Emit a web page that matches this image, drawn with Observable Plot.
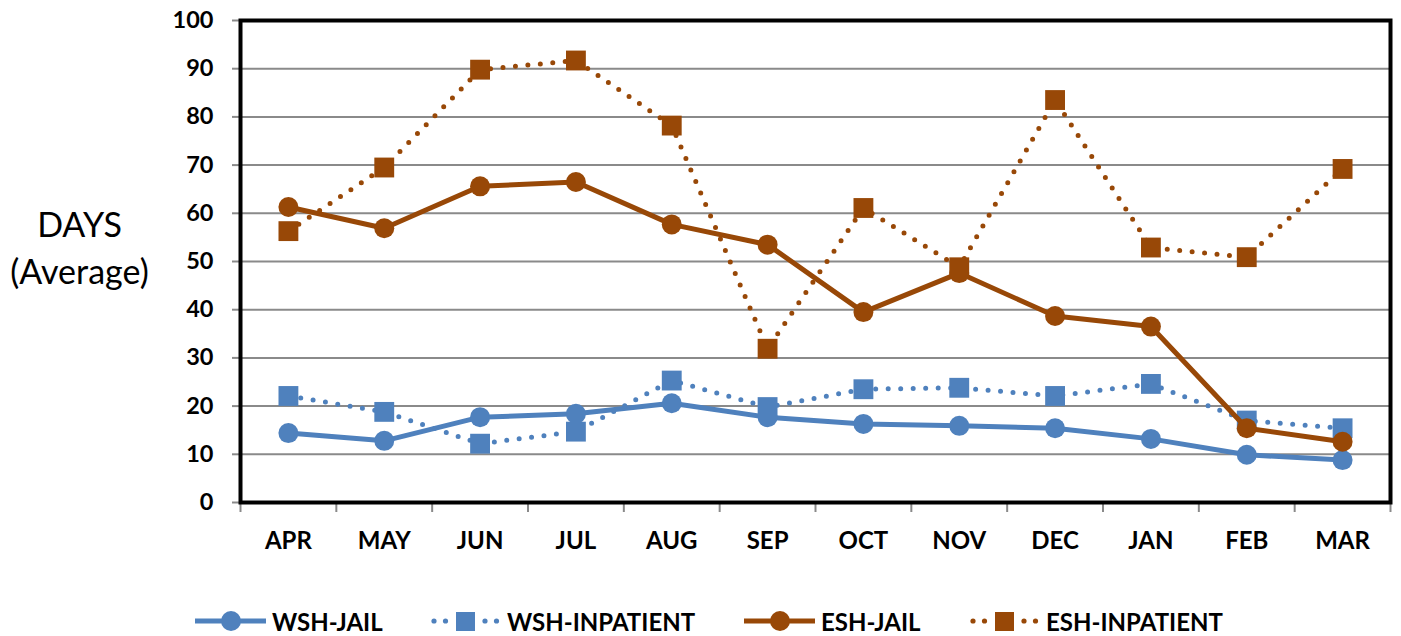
<!DOCTYPE html>
<html><head><meta charset="utf-8">
<script src="https://cdn.jsdelivr.net/npm/d3@7"></script>
<script src="https://cdn.jsdelivr.net/npm/@observablehq/plot@0.6"></script>
<style>
body{margin:0;background:#fff;font-family:Lato,sans-serif;}
#wrap{position:relative;width:1401px;height:636px;overflow:hidden;}
#legend{position:absolute;top:606px;left:0;width:1401px;height:30px;}
.item{position:absolute;top:0;height:30px;display:flex;align-items:center;font-weight:bold;font-size:24px;color:#000;}
.item svg{display:block;}
</style></head><body>
<div id="wrap"><div id="chart"></div><div id="legend"></div></div>
<script>
const months = ["APR","MAY","JUN","JUL","AUG","SEP","OCT","NOV","DEC","JAN","FEB","MAR"];
const yTicks = [0,10,20,30,40,50,60,70,80,90,100];
const gridValues = [10,20,30,40,50,60,70,80,90];
const wshJail = [14.4,12.8,17.7,18.4,20.6,17.7,16.3,15.9,15.4,13.2,9.9,8.8];
const wshInpatient = [22.1,18.8,12.2,14.7,25.3,19.8,23.5,23.8,22.1,24.6,17.0,15.4];
const eshJail = [61.3,56.9,65.6,66.5,57.7,53.5,39.5,47.6,38.7,36.5,15.4,12.6];
const eshInpatient = [56.3,69.5,89.8,91.7,78.2,31.9,61.1,48.8,83.5,52.9,50.9,69.2];
const seriesNames = ["WSH-JAIL","WSH-INPATIENT","ESH-JAIL","ESH-INPATIENT"];
const seriesColors = ["#4F81BD","#4F81BD","#984807","#984807"];
const seriesDotted = [false,true,false,true];
const seriesValues = [wshJail, wshInpatient, eshJail, eshInpatient];

const boundaries = months.map((_, i) => i - 0.5).concat([months.length - 0.5]);
const monthIdx = months.map((_, i) => i);

const seriesMarks = seriesNames.flatMap((name, k) => {
  const rows = seriesValues[k].map((v, i) => ({i, value: v}));
  const c = seriesColors[k];
  const dotted = seriesDotted[k];
  return [
    Plot.line(rows, {x: "i", y: "value", stroke: c, strokeWidth: 5,
      strokeDasharray: dotted ? "0,12.5" : null, strokeLinecap: "round", strokeLinejoin: "round"}),
    Plot.dot(rows, {x: "i", y: "value", fill: c, stroke: "none",
      symbol: dotted ? "square" : "circle", r: dotted ? 11.2 : 10})
  ];
});

const chart = Plot.plot({
  width: 1401, height: 600,
  marginLeft: 240, marginRight: 11, marginTop: 20, marginBottom: 98,
  style: {fontFamily: "Lato, sans-serif", fontSize: "23.5px", fontWeight: "bold", color: "#000", background: "#fff"},
  x: {type: "linear", domain: [-0.5, months.length - 0.5], axis: null, label: null},
  y: {domain: [0, 100], axis: null, label: null},
  marks: [
    Plot.ruleY(gridValues, {stroke: "#8a8a8a", strokeWidth: 2}),
    Plot.axisY({ticks: yTicks, tickSize: 8, tickPadding: 19, stroke: "#8a8a8a", strokeWidth: 2, tickFormat: d => d, label: null, fill: "#000"}),
    Plot.axisX({ticks: boundaries, tickSize: 10, stroke: "#8a8a8a", strokeWidth: 2, tickFormat: () => "", label: null}),
    Plot.axisX({ticks: monthIdx, tickSize: 0, tickPadding: 29, tickFormat: i => months[i], label: null, fill: "#000", fontSize: 24}),
    Plot.text(["DAYS\n(Average)"], {text: d => d, frameAnchor: "left", dx: -161, dy: -16, fontSize: 34, fontWeight: "normal", lineHeight: 1.38, textAnchor: "middle", fill: "#000"}),
    Plot.frame({stroke: "#000", strokeWidth: 4}),
    ...seriesMarks
  ]
});
document.getElementById("chart").appendChild(chart);

// legend
const legendPos = [195, 429, 744, 968];
const legend = document.getElementById("legend");
const ns = "http://www.w3.org/2000/svg";
seriesNames.forEach((name, k) => {
  const item = document.createElement("div");
  item.className = "item";
  item.style.left = legendPos[k] + "px";
  const svg = document.createElementNS(ns, "svg");
  svg.setAttribute("width", 72); svg.setAttribute("height", 30);
  const c = seriesColors[k];
  if (!seriesDotted[k]) {
    const l = document.createElementNS(ns, "line");
    l.setAttribute("x1", 0); l.setAttribute("x2", 71); l.setAttribute("y1", 15); l.setAttribute("y2", 15);
    l.setAttribute("stroke", c); l.setAttribute("stroke-width", 5);
    svg.appendChild(l);
    const ci = document.createElementNS(ns, "circle");
    ci.setAttribute("cx", 36); ci.setAttribute("cy", 15); ci.setAttribute("r", 10); ci.setAttribute("fill", c);
    svg.appendChild(ci);
  } else {
    [5, 16.5, 56, 67.5].forEach(x => {
      const d = document.createElementNS(ns, "circle");
      d.setAttribute("cx", x); d.setAttribute("cy", 15); d.setAttribute("r", 2.6); d.setAttribute("fill", c);
      svg.appendChild(d);
    });
    const r = document.createElementNS(ns, "rect");
    r.setAttribute("x", 27); r.setAttribute("y", 6); r.setAttribute("width", 19); r.setAttribute("height", 19); r.setAttribute("fill", c);
    svg.appendChild(r);
  }
  item.appendChild(svg);
  const span = document.createElement("span");
  span.textContent = name;
  span.style.marginLeft = (seriesDotted[k] ? 6 : 5) + "px";
  item.appendChild(span);
  legend.appendChild(item);
});
</script>
</body></html>
